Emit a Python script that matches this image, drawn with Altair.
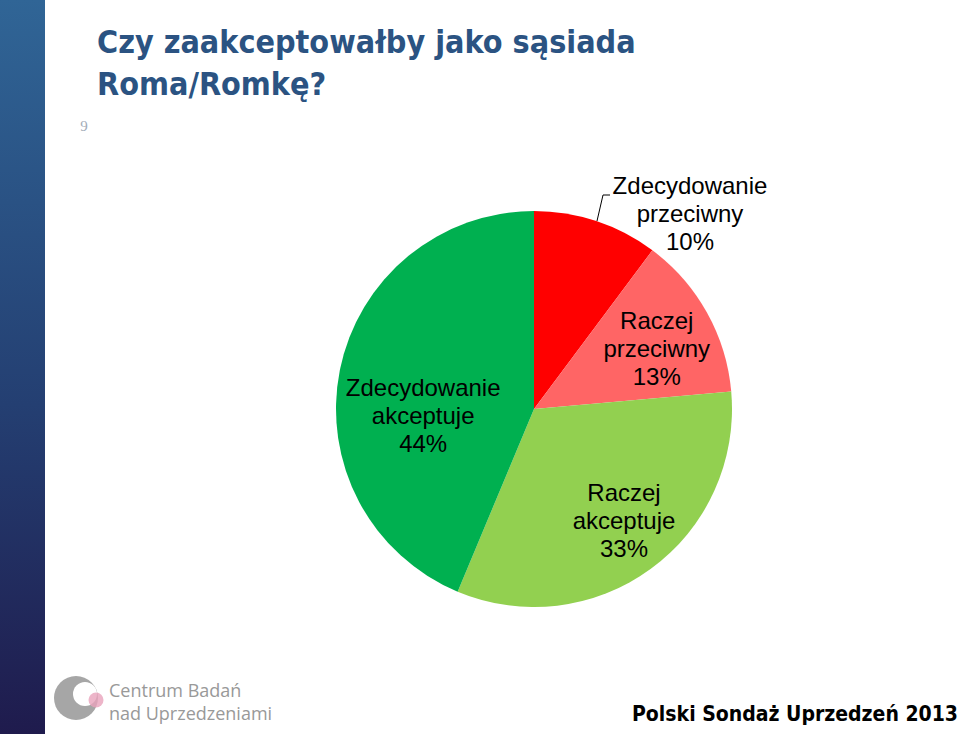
import altair as alt
import pandas as pd

# ---- data ----
categories = ["Zdecydowanie przeciwny", "Raczej przeciwny", "Raczej akceptuje", "Zdecydowanie akceptuje"]
label_lines = ["Zdecydowanie\nprzeciwny", "Raczej\nprzeciwny", "Raczej\nakceptuje", "Zdecydowanie\nakceptuje"]
values = [10.2, 13.4, 32.7, 43.7]
colors = ["#ff0000", "#ff6565", "#92d050", "#00b050"]

title_lines = ["Czy zaakceptowałby jako sąsiada", "Roma/Romkę?"]
page_number = "9"
logo_lines = ["Centrum Badań", "nad Uprzedzeniami"]
footer = "Polski Sondaż Uprzedzeń 2013"

df = pd.DataFrame({
    "category": categories,
    "lines": label_lines,
    "value": values,
    "order": list(range(len(categories))),
})

W, H = 960, 734
CX, CY, R = 534, 409, 198

base = (
    alt.Chart(df)
    .transform_joinaggregate(total="sum(value)")
    .transform_window(cum="sum(value)", sort=[alt.SortField("order")], frame=[None, 0])
    .transform_calculate(
        start="2*PI*(datum.cum - datum.value)/datum.total",
        end="2*PI*datum.cum/datum.total",
        mid="PI*(2*datum.cum - datum.value)/datum.total",
        label="datum.lines + '\\n' + format(datum.value, '.0f') + '%'",
    )
)

pie = base.mark_arc(outerRadius=R).encode(
    x=alt.value(CX),
    y=alt.value(CY),
    theta=alt.Theta("start:Q", scale=None),
    theta2="end:Q",
    color=alt.Color("category:N", scale=alt.Scale(domain=categories, range=colors), legend=None),
)

label_cfg = [
    (categories[0], 200, 93, -32),
    (categories[1], 136, 4, -21),
    (categories[2], 144, 5, -31),
    (categories[3], 111, -2, 2),
]
label_layers = []
for cat, rad, dx, dy in label_cfg:
    label_layers.append(
        base.transform_filter(alt.datum.category == cat)
        .mark_text(font="Liberation Sans", fontSize=24, lineHeight=28, lineBreak="\n",
                   align="center", baseline="middle", color="black", dx=dx, dy=dy)
        .encode(
            x=alt.value(CX),
            y=alt.value(CY),
            theta=alt.Theta("mid:Q", scale=None),
            radius=alt.value(rad),
            text="label:N",
        )
    )

one = pd.DataFrame({"k": [0]})

# left gradient band
band = alt.Chart(one).mark_rect(
    color=alt.Gradient(
        gradient="linear",
        stops=[alt.GradientStop(color="#306596", offset=0),
               alt.GradientStop(color="#243f72", offset=0.55),
               alt.GradientStop(color="#1f1b4d", offset=1)],
        x1=0, x2=0, y1=0, y2=1,
    )
).encode(x=alt.value(0), x2=alt.value(45), y=alt.value(0), y2=alt.value(H))

title = alt.Chart(one).mark_text(
    text=title_lines, font="DejaVu Sans Condensed, DejaVu Sans", fontWeight="bold",
    fontSize=32, lineHeight=42, align="left", baseline="alphabetic", color="#2b5382"
).encode(x=alt.value(97), y=alt.value(53))

page = alt.Chart(one).mark_text(
    text=page_number, font="Liberation Serif", fontSize=15, align="center",
    baseline="alphabetic", color="#a3abb8"
).encode(x=alt.value(84), y=alt.value(131))

leader1 = alt.Chart(one).mark_rule(color="black", strokeWidth=1).encode(
    x=alt.value(603), x2=alt.value(610), y=alt.value(195), y2=alt.value(195))
leader2 = alt.Chart(one).mark_rule(color="black", strokeWidth=1).encode(
    x=alt.value(603), x2=alt.value(597), y=alt.value(195), y2=alt.value(221))

logo_outer = alt.Chart(one).mark_circle(size=1936, color="#a6a6a6", opacity=1).encode(
    x=alt.value(76), y=alt.value(698))
logo_inner = alt.Chart(one).mark_circle(size=576, color="white", opacity=1).encode(
    x=alt.value(85), y=alt.value(694))
logo_dot = alt.Chart(one).mark_circle(size=225, color="#e9a3bb", opacity=0.8).encode(
    x=alt.value(96), y=alt.value(700))
logo_text = alt.Chart(one).mark_text(
    text=logo_lines, font="Open Sans", fontSize=18, lineHeight=23, align="left",
    baseline="alphabetic", color="#999999"
).encode(x=alt.value(109), y=alt.value(697))

foot = alt.Chart(one).mark_text(
    text=footer, font="DejaVu Sans Condensed, DejaVu Sans", fontWeight="bold",
    fontSize=21, align="right", baseline="alphabetic", color="black"
).encode(x=alt.value(958), y=alt.value(721))

chart = alt.layer(
    band, title, page, pie, *label_layers, leader1, leader2,
    logo_outer, logo_inner, logo_dot, logo_text, foot
).properties(
    width=W, height=H, padding=0, autosize="none", background="white"
).configure_view(stroke=None)

chart.save("out.html", embed_options={"renderer": "svg", "actions": False})
